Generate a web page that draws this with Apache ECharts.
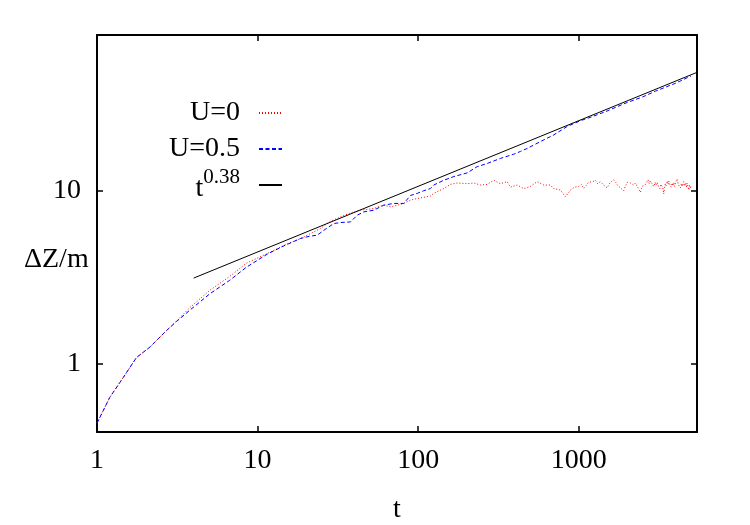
<!DOCTYPE html>
<html>
<head>
<meta charset="utf-8">
<script src="https://cdn.jsdelivr.net/npm/echarts@6/dist/echarts.min.js"></script>
<style>
  html, body { margin: 0; padding: 0; background: #fff; }
  #chart { width: 750px; height: 525px; }
</style>
</head>
<body>
<div id="chart"></div>
<script>
// values (t, ΔZ/m)
const u0 = [
  [1.0, 0.45], [1.2, 0.634], [1.46, 0.83], [1.76, 1.08], [2.13, 1.24], [2.71, 1.55],
  [3.13, 1.76], [3.78, 2.10], [5.04, 2.65], [6.71, 3.19], [8.53, 3.81], [11.5, 4.33],
  [14.6, 4.83], [18.5, 5.29], [22.4, 5.78], [24.6, 6.04], [28.4, 6.66], [32.8, 7.06],
  [37.9, 7.45], [43.7, 7.72], [52.9, 7.90], [61.1, 8.26], [67.3, 8.07], [74.3, 8.26],
  [81.3, 8.45], [89.6, 8.83], [98.6, 9.03], [119, 9.31], [125, 9.66], [144, 10.3],
  [159, 10.9], [175, 11.1], [202, 11.0], [222, 11.1], [244, 10.8], [269, 10.9],
  [296, 11.5], [325, 11.0], [358, 11.3], [376, 10.5], [413, 10.8], [455, 10.3],
  [500, 10.6], [551, 11.3], [605, 10.8], [666, 10.8], [699, 10.3], [769, 10.1],
  [826, 9.23], [888, 10.1], [940, 10.5], [1000, 10.6], [1040, 10.9], [1074, 10.3],
  [1110, 10.7], [1150, 11.2], [1183, 11.0], [1220, 11.3], [1270, 11.5], [1310, 11.0],
  [1365, 11.3], [1400, 11.1], [1430, 10.8], [1470, 10.6], [1503, 10.4], [1540, 10.9],
  [1580, 11.2], [1620, 11.0], [1652, 11.6], [1700, 11.2], [1740, 10.8], [1780, 10.9],
  [1818, 10.4], [1860, 10.6], [1906, 10.0], [1940, 10.5], [1980, 10.9], [2010, 11.2],
  [2048, 11.5], [2100, 11.1], [2150, 11.3], [2200, 10.8], [2254, 11.1], [2300, 10.7],
  [2340, 10.4], [2380, 10.1], [2422, 9.8], [2460, 10.3], [2510, 10.7], [2560, 10.5],
  [2602, 10.9], [2650, 11.2], [2700, 11.6], [2750, 11.0], [2794, 11.4], [2850, 11.1],
  [2930, 10.6], [2990, 11.2], [3030, 10.8], [3076, 11.2], [3140, 10.6], [3200, 10.3],
  [3250, 10.9], [3300, 11.1], [3340, 10.4], [3382, 9.6], [3420, 10.3], [3460, 11.0],
  [3500, 10.7], [3560, 11.4], [3600, 10.9], [3634, 11.4], [3700, 10.8], [3760, 10.5],
  [3820, 11.1], [3860, 10.7], [3905, 11.2], [3960, 10.6], [4020, 11.3], [4100, 11.7],
  [4160, 10.9], [4220, 11.1], [4299, 10.4], [4360, 11.0], [4420, 10.6], [4500, 11.3],
  [4560, 10.7], [4620, 11.1], [4680, 10.5], [4730, 11.1], [4790, 10.6], [4850, 10.1],
  [4900, 10.8], [4963, 10.3], [5000, 10.7]
]

const u05 = [
  [1.0, 0.45], [1.2, 0.634], [1.46, 0.83], [1.76, 1.08], [2.13, 1.24], [2.71, 1.55],
  [3.13, 1.75], [3.78, 2.03], [5.04, 2.53], [6.71, 3.03], [8.53, 3.61], [11.5, 4.30],
  [14.6, 4.80], [18.5, 5.29], [21.0, 5.45], [23.5, 5.53], [26.5, 6.0], [29.8, 6.46],
  [33.0, 6.55], [37.9, 6.6], [41.7, 7.22], [45.9, 7.55], [52.9, 7.72], [61.1, 8.26],
  [70.5, 8.45], [81.3, 8.45], [89.6, 9.4], [98.6, 9.66], [108, 10.0], [119, 10.3],
  [125, 10.8], [144, 11.5], [167, 12.1], [202, 12.7], [233, 13.8], [269, 14.4],
  [325, 15.4], [394, 16.3], [433, 16.9], [477, 17.6], [578, 19.3], [699, 21.1],
  [847, 23.6], [1025, 25.5], [1200, 26.8], [1500, 29.0], [2000, 32.5], [2500, 35.0],
  [3000, 37.8], [4000, 42.0], [5000, 46.3]
]

const fit = [[4, 3.12], [5450, 48.6]]

const font = 'Liberation Serif'

function isPow10(v) {
  const l = Math.log10(v)
  return Math.abs(l - Math.round(l)) < 1e-6
}
const tickLabel = v => (isPow10(v) ? String(Math.round(v)) : '')

const frame = { show: true, lineStyle: { color: '#000', width: 2 } }
const tick = { show: true, inside: true, length: 6, lineStyle: { color: '#000', width: 1.5 } }

const chart = echarts.init(document.getElementById('chart'))

chart.setOption({
  animation: false,
  backgroundColor: '#fff',
  textStyle: { fontFamily: font },
  grid: { left: 97, right: 53, top: 35, bottom: 93, containLabel: false, outerBoundsMode: 'none' },
  legend: {
    orient: 'vertical',
    align: 'right',
    right: 467,
    top: 95,
    padding: 0,
    itemGap: 0,
    itemWidth: 23,
    itemHeight: 14,
    itemStyle: { opacity: 0 },
    data: ['U=0', 'U=0.5', 't^0.38'],
    formatter: name => (name === 't^0.38' ? '{t|t}{s|0.38}' : name),
    textStyle: {
      fontFamily: font, fontSize: 28, color: '#000', lineHeight: 36,
      padding: [0, 14, 0, 0],
      rich: {
        t: { fontFamily: font, fontSize: 28, lineHeight: 36, verticalAlign: 'bottom', color: '#000' },
        s: { fontFamily: font, fontSize: 21, lineHeight: 15, verticalAlign: 'top', color: '#000' }
      }
    }
  },
  graphic: [
    {
      type: 'text', left: 24, top: 246,
      style: { text: 'ΔZ/m', fontFamily: font, fontSize: 28, fill: '#000' }
    }
  ],
  xAxis: [
    {
      type: 'log', logBase: 10, min: 1, max: 5450, position: 'bottom',
      name: 't', nameLocation: 'middle', nameGap: 64,
      nameTextStyle: { fontFamily: font, fontSize: 28, color: '#000' },
      axisLine: frame, axisTick: tick, splitLine: { show: false }, minorTick: { show: false },
      axisLabel: { formatter: tickLabel, fontFamily: font, fontSize: 28, color: '#000', margin: 15, showMaxLabel: false }
    },
    {
      type: 'log', logBase: 10, min: 1, max: 5450, position: 'top',
      axisLine: frame, axisTick: tick, splitLine: { show: false }, axisLabel: { show: false }
    }
  ],
  yAxis: [
    {
      type: 'log', logBase: 10, min: 0.4, max: 80, position: 'left',
      axisLine: frame, axisTick: tick, splitLine: { show: false },
      axisLabel: { formatter: tickLabel, fontFamily: font, fontSize: 28, color: '#000', margin: 16, showMinLabel: false, showMaxLabel: false }
    },
    {
      type: 'log', logBase: 10, min: 0.4, max: 80, position: 'right',
      axisLine: frame, axisTick: tick, splitLine: { show: false }, axisLabel: { show: false }
    }
  ],
  series: [
    {
      name: 'U=0', type: 'line', data: u0, showSymbol: false, symbol: 'none',
      lineStyle: { color: '#ff0000', width: 1, type: [1, 2] }, itemStyle: { color: '#ff0000', opacity: 0 }
    },
    {
      name: 'U=0.5', type: 'line', data: u05, showSymbol: false, symbol: 'none',
      lineStyle: { color: '#0000ff', width: 1, type: [4, 2.5] }, itemStyle: { color: '#0000ff', opacity: 0 }
    },
    {
      name: 't^0.38', type: 'line', data: fit, showSymbol: false, symbol: 'none',
      lineStyle: { color: '#000', width: 1 }, itemStyle: { color: '#000', opacity: 0 }
    }
  ]
})
</script>
</body>
</html>
